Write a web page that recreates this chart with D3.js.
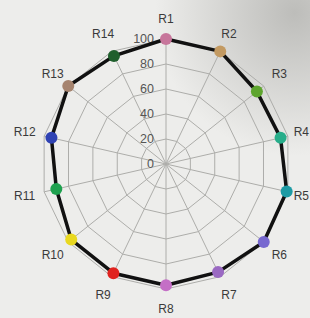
<!DOCTYPE html>
<html>
<head>
<meta charset="utf-8">
<script src="https://cdn.jsdelivr.net/npm/d3@7"></script>
<style>
html,body{margin:0;padding:0;background:#ededeb;}
svg{display:block;}
</style>
</head>
<body>
<svg id="chart" width="310" height="318"></svg>
<script>
const categories = ["R1","R2","R3","R4","R5","R6","R7","R8","R9","R10","R11","R12","R13","R14"];
const values = [100, 100, 93, 94, 99, 100, 96, 97, 97, 97, 90, 94, 100, 96];
const colors = ["#c7769b","#c39a62","#5ea52e","#27ad8a","#1d9ba4","#7768d0","#9a69c2","#c46fc6","#e0231f","#e9d81f","#1fa14f","#2f42b3","#a6846f","#1f5f2c"];
const tickValues = [0, 20, 40, 60, 80, 100];

const svg = d3.select("#chart");
const W = 310, H = 318;
const cx = 166, cy = 164, R = 125;

// background with subtle photo shading
const defs = svg.append("defs");
const grad = defs.append("radialGradient").attr("id","bg").attr("cx","0.95").attr("cy","0.04").attr("r","0.45");
grad.append("stop").attr("offset","0").attr("stop-color","#bdbdba");
grad.append("stop").attr("offset","1").attr("stop-color","#ededeb");
svg.append("rect").attr("width",W).attr("height",H).attr("fill","url(#bg)");

const n = categories.length;
const angle = d3.scaleLinear().domain([0, n]).range([0, 2*Math.PI]);
const rScale = d3.scaleLinear().domain([0, 100]).range([0, R]);

const g = svg.append("g").attr("transform", `translate(${cx},${cy})`);
const pt = (i, v) => [Math.sin(angle(i))*rScale(v), -Math.cos(angle(i))*rScale(v)];

// grid rings
const line = d3.line().curve(d3.curveLinearClosed);
tickValues.filter(t => t > 0).forEach(t => {
  g.append("path").attr("d", line(categories.map((c,i) => pt(i, t))))
    .attr("fill","none").attr("stroke","#adadaa").attr("stroke-width",1);
});
// spokes
categories.forEach((c,i) => {
  const [x,y] = pt(i, 100);
  g.append("line").attr("x1",0).attr("y1",0).attr("x2",x).attr("y2",y)
    .attr("stroke","#adadaa").attr("stroke-width",1);
});

// tick labels
tickValues.forEach(t => {
  g.append("text").attr("x",-12).attr("y",-rScale(t)).attr("dy","0.35em")
    .attr("text-anchor","end").attr("font-family","Liberation Sans, Arial, sans-serif")
    .attr("font-size",12.5).attr("fill","#555").text(t);
});

// data polygon
g.append("path").attr("d", line(values.map((v,i) => pt(i, v))))
  .attr("fill","none").attr("stroke","#111").attr("stroke-width",3.5).attr("stroke-linejoin","round");

// dots
g.selectAll("circle.dot").data(values).enter().append("circle")
  .attr("class","dot")
  .attr("cx",(v,i) => pt(i,v)[0]).attr("cy",(v,i) => pt(i,v)[1])
  .attr("r",6).attr("fill",(v,i) => colors[i]);

// category labels
categories.forEach((c,i) => {
  const [x,y] = pt(i, 116);
  const t = g.append("text").attr("x",x).attr("y",y).attr("dy","0.35em")
    .attr("text-anchor","middle").attr("font-family","Liberation Sans, Arial, sans-serif")
    .attr("font-size",12).attr("fill","#3a3a3a").text(c);
  const w = t.node().getComputedTextLength();
  const maxX = W - cx - 1 - w/2;
  if (x > maxX) t.attr("x", maxX);
});
</script>
</body>
</html>
